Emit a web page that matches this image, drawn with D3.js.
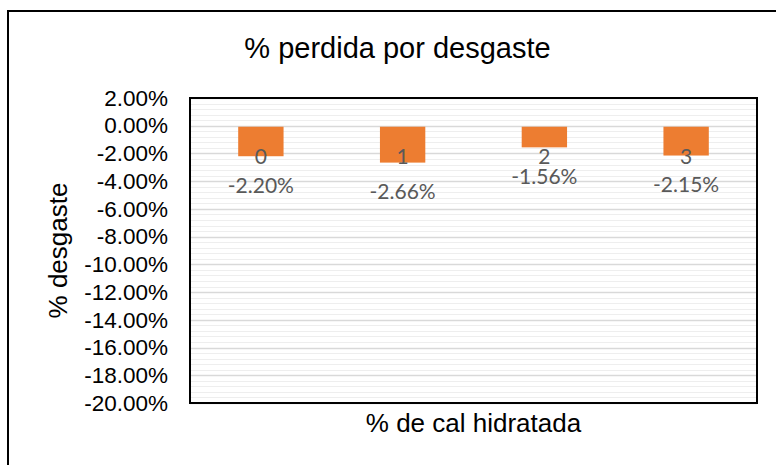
<!DOCTYPE html>
<html>
<head>
<meta charset="utf-8">
<script src="https://cdn.jsdelivr.net/npm/d3@7"></script>
<style>
  body { margin: 0; background: #fff; }
  svg { display: block; }
</style>
</head>
<body>
<svg id="chart" width="776" height="465"></svg>
<script>
// data
var categories = ["0", "1", "2", "3"];
var values = [-0.0220, -0.0266, -0.0156, -0.0215];
var valueLabels = ["-2.20%", "-2.66%", "-1.56%", "-2.15%"];
var yTicks = [0.02, 0, -0.02, -0.04, -0.06, -0.08, -0.10, -0.12, -0.14, -0.16, -0.18, -0.20];

var title = "% perdida por desgaste";
var xTitle = "% de cal hidratada";
var yTitle = "% desgaste";

var svg = d3.select("#chart");

var plot = { left: 190, top: 98, right: 757, bottom: 403 };

var x = d3.scaleBand()
  .domain(categories)
  .range([plot.left, plot.right])
  .paddingInner(0.68)
  .paddingOuter(0.34);

var y = d3.scaleLinear()
  .domain([-0.20, 0.02])
  .range([plot.bottom, plot.top]);

// excel style: plain hyphen for the minus sign
var pct = d3.formatLocale({ decimal: ".", thousands: ",", grouping: [3], currency: ["", ""], minus: "-" }).format(".2%");

// outer chart border (runs off the right and bottom of the picture)
svg.append("rect")
  .attr("x", 8).attr("y", 11)
  .attr("width", 820).attr("height", 520)
  .attr("fill", "none")
  .attr("stroke", "#000")
  .attr("stroke-width", 2);

// minor gridlines every 0.4%
var minor = d3.range(0, 56).map(i => 0.02 - i * 0.004);
svg.append("g")
  .selectAll("line")
  .data(minor)
  .enter()
  .append("line")
  .attr("x1", plot.left).attr("x2", plot.right)
  .attr("y1", d => Math.round(y(d)) + 0.5)
  .attr("y2", d => Math.round(y(d)) + 0.5)
  .attr("stroke", "#eeeeee")
  .attr("stroke-width", 1);

// major gridlines
svg.append("g")
  .selectAll("line")
  .data(yTicks)
  .enter()
  .append("line")
  .attr("x1", plot.left).attr("x2", plot.right)
  .attr("y1", d => Math.round(y(d)) + 0.5)
  .attr("y2", d => Math.round(y(d)) + 0.5)
  .attr("stroke", "#d9d9d9")
  .attr("stroke-width", 1.5);

// bars
svg.append("g")
  .selectAll("rect")
  .data(values)
  .enter()
  .append("rect")
  .attr("x", (d, i) => x(categories[i]))
  .attr("width", x.bandwidth())
  .attr("y", y(0) + 1)
  .attr("height", d => y(d) - y(0) - 1)
  .attr("fill", "#ed7d31");

// plot area border
svg.append("rect")
  .attr("x", plot.left).attr("y", plot.top)
  .attr("width", plot.right - plot.left)
  .attr("height", plot.bottom - plot.top)
  .attr("fill", "none")
  .attr("stroke", "#000")
  .attr("stroke-width", 2);

// data labels: category name then value
var labels = svg.append("g")
  .attr("font-family", "Lato, 'Open Sans', sans-serif")
  .attr("font-size", 21)
  .attr("fill", "#595959")
  .attr("text-anchor", "middle");

labels.selectAll(".cat")
  .data(categories)
  .enter()
  .append("text")
  .attr("class", "cat")
  .attr("x", d => x(d) + x.bandwidth() / 2)
  .attr("y", y(-0.0220))
  .attr("dy", "0.36em")
  .text(d => d);

labels.selectAll(".val")
  .data(values)
  .enter()
  .append("text")
  .attr("class", "val")
  .attr("x", (d, i) => x(categories[i]) + x.bandwidth() / 2)
  .attr("y", d => y(d) + 29)
  .attr("dy", "0.36em")
  .text((d, i) => valueLabels[i]);

// y axis tick labels
var yAxis = d3.axisLeft(y)
  .tickValues(yTicks)
  .tickSize(0)
  .tickPadding(22)
  .tickFormat(pct);

svg.append("g")
  .attr("transform", "translate(" + plot.left + ",0)")
  .call(yAxis)
  .call(g => g.select(".domain").remove())
  .selectAll("text")
  .attr("font-family", "'Liberation Sans', Arial, sans-serif")
  .attr("font-size", 22.5)
  .attr("fill", "#000");

// titles
svg.append("text")
  .attr("x", 397.5).attr("y", 58)
  .attr("text-anchor", "middle")
  .attr("font-family", "'Liberation Sans', Arial, sans-serif")
  .attr("font-size", 29)
  .text(title);

svg.append("text")
  .attr("x", (plot.left + plot.right) / 2).attr("y", 432)
  .attr("text-anchor", "middle")
  .attr("font-family", "'Liberation Sans', Arial, sans-serif")
  .attr("font-size", 26)
  .text(xTitle);

svg.append("text")
  .attr("transform", "translate(67," + (plot.top + plot.bottom) / 2 + ") rotate(-90)")
  .attr("text-anchor", "middle")
  .attr("font-family", "'Liberation Sans', Arial, sans-serif")
  .attr("font-size", 26)
  .text(yTitle);
</script>
</body>
</html>
